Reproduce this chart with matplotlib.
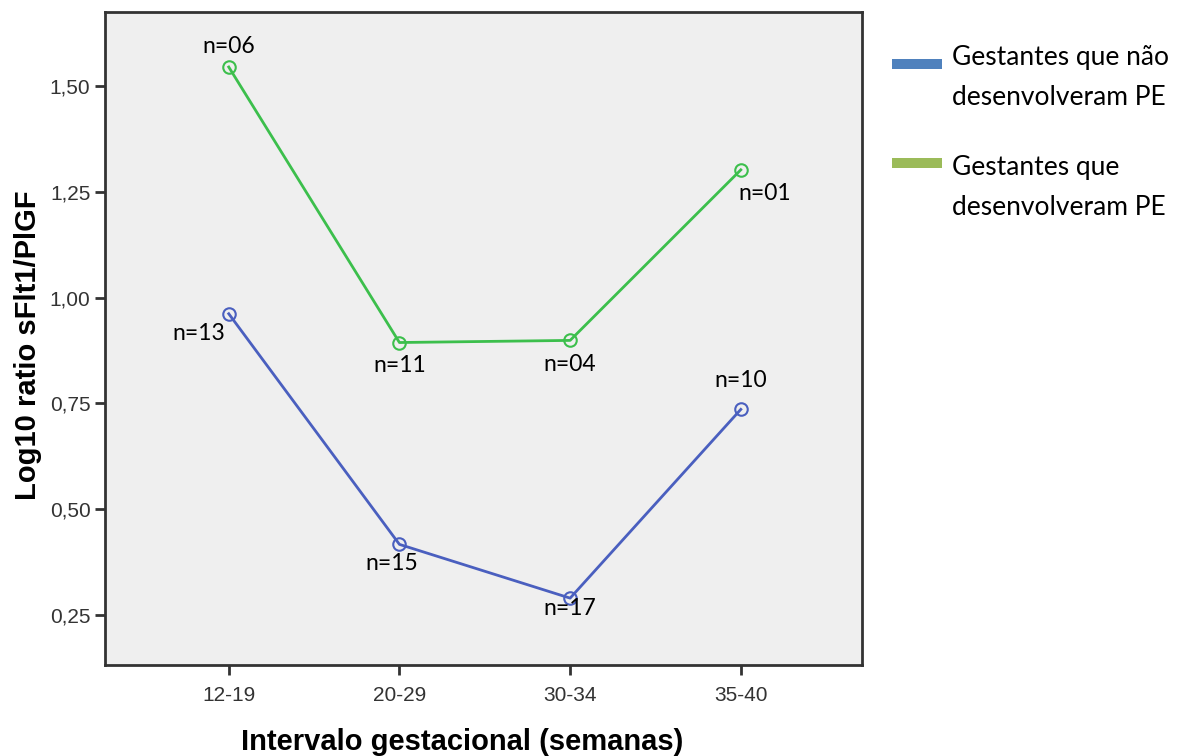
import numpy as np
import matplotlib
matplotlib.use("Agg")
import matplotlib.pyplot as plt
from matplotlib.lines import Line2D

categorias = ["12-19", "20-29", "30-34", "35-40"]
sem_pe = [0.962, 0.417, 0.290, 0.736]
com_pe = [1.545, 0.894, 0.899, 1.302]
n_sem_pe = ["n=13", "n=15", "n=17", "n=10"]
n_com_pe = ["n=06", "n=11", "n=04", "n=01"]
yticks = [0.25, 0.50, 0.75, 1.00, 1.25, 1.50]
legenda = [["Gestantes que não", "desenvolveram PE"], ["Gestantes que", "desenvolveram PE"]]
cores_legenda = ["#4f81bd", "#9bbb59"]

W, H = 1184, 756
fig = plt.figure(figsize=(W / 100, H / 100), dpi=100)
ax = fig.add_axes([105 / W, 1 - 665 / H, 757 / W, 653 / H])
ax.set_facecolor("#efefef")

x = np.arange(len(categorias))
ax.plot(x, com_pe, color="#3cbf4c", lw=2, marker="o", ms=9, mfc="none", mew=1.5)
ax.plot(x, sem_pe, color="#4a5fbf", lw=2, marker="o", ms=9, mfc="none", mew=1.5)

# offsets of the n= labels, in pixels
off_com = [(0, 21), (0, -23), (0, -24), (24, -24)]
off_sem = [(-30, -20), (-8, -19), (0, -10), (0, 29)]
for i in range(len(categorias)):
	ax.annotate(n_com_pe[i], (x[i], com_pe[i]), xytext=off_com[i], textcoords="offset pixels",
		ha="center", va="center", fontsize=16.5, family="Lato")
	ax.annotate(n_sem_pe[i], (x[i], sem_pe[i]), xytext=off_sem[i], textcoords="offset pixels",
		ha="center", va="center", fontsize=16.5, family="Lato")

ax.set_xlim(-0.725, 3.71)
ax.set_ylim(0.132, 1.675)
ax.set_xticks(x)
ax.set_xticklabels(categorias)
ax.set_yticks(yticks)
ax.set_yticklabels([("%.2f" % v).replace(".", ",") for v in yticks])
for s in ax.spines.values():
	s.set_color("#333333")
	s.set_linewidth(2)
ax.tick_params(direction="out", length=7, width=2, color="#333333", labelcolor="#333333",
	labelsize=15, labelfontfamily="Liberation Sans")
ax.tick_params(axis="x", pad=8)

ax.set_xlabel("Intervalo gestacional (semanas)", fontsize=21, fontweight="bold",
	family="Liberation Sans", va="center")
ax.xaxis.set_label_coords((462 - 105) / 757, -(742 - 665) / 653)
ax.set_ylabel("Log10 ratio sFlt1/PlGF", fontsize=21, fontweight="bold",
	family="Liberation Sans", va="center")
ax.yaxis.set_label_coords((28 - 105) / 757, (665 - 345) / 653)

# legend drawn by hand, outside the axes
for k in range(2):
	y0 = 64 + 99 * k
	fig.add_artist(Line2D([892 / W, 942 / W], [1 - y0 / H] * 2, color=cores_legenda[k], lw=7.2,
		solid_capstyle="butt"))
	for j, linha in enumerate(legenda[k]):
		fig.text(952 / W, 1 - (65 + 110 * k + 40 * j) / H, linha, family="Lato", fontsize=19,
			va="baseline", ha="left")

fig.savefig("out.png", dpi=100, facecolor="white")
